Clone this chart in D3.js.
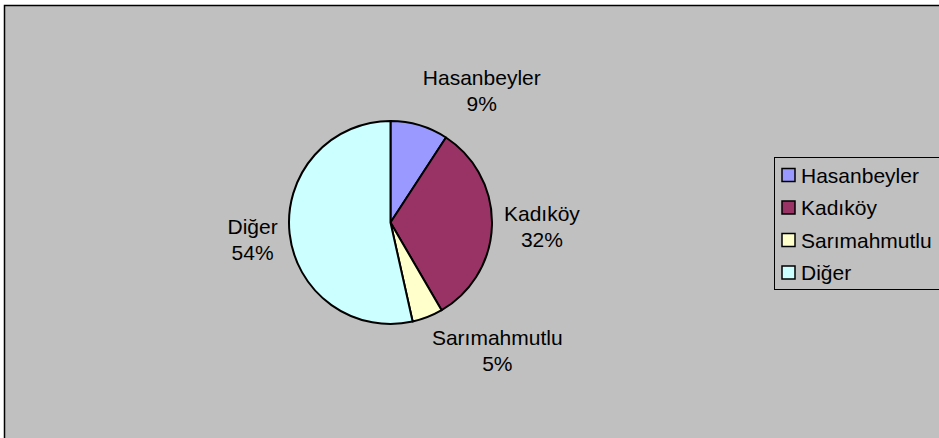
<!DOCTYPE html>
<html>
<head>
<meta charset="utf-8">
<script src="https://cdn.jsdelivr.net/npm/d3@7"></script>
<style>
  html, body { margin: 0; padding: 0; background: #fff; }
  text { font-family: "Liberation Sans", Arial, sans-serif; font-size: 21px; fill: #000; }
</style>
</head>
<body>
<div id="chart"></div>
<script>
// data
var categories = ["Hasanbeyler", "Kadıköy", "Sarımahmutlu", "Diğer"];
var values = [9.2, 32.4, 4.9, 53.5];
var colors = ["#9999FF", "#993366", "#FFFFCC", "#CCFFFF"];

var W = 939, H = 438;
var cx = 390.5, cy = 222.5, radius = 101.5;

var svg = d3.select("#chart").append("svg")
    .attr("width", W)
    .attr("height", H);

// chart area (cropped at right and bottom)
svg.append("rect")
    .attr("x", 4.5).attr("y", 5.5)
    .attr("width", 1000).attr("height", 1000)
    .attr("fill", "#C0C0C0")
    .attr("stroke", "#000")
    .attr("stroke-width", 1.5);

var total = d3.sum(values);
var data = categories.map(function(c, i) { return {name: c, value: values[i], color: colors[i]}; });

var pie = d3.pie().sort(null).value(function(d) { return d.value; });
var arc = d3.arc().innerRadius(0).outerRadius(radius);

var g = svg.append("g").attr("transform", "translate(" + cx + "," + cy + ")");
var arcs = pie(data);

g.selectAll("path")
    .data(arcs)
  .enter().append("path")
    .attr("d", arc)
    .attr("fill", function(d) { return d.data.color; })
    .attr("stroke", "#000")
    .attr("stroke-width", 2)
    .attr("stroke-linejoin", "round");

// labels outside the pie
var labelR = radius + 12, boxH = 46;
var labels = g.selectAll("g.lbl")
    .data(arcs)
  .enter().append("g").attr("class", "lbl");

labels.append("text").attr("class", "l1")
    .attr("text-anchor", "middle")
    .text(function(d) { return d.data.name; });
labels.append("text").attr("class", "l2")
    .attr("text-anchor", "middle")
    .text(function(d) { return Math.round(d.data.value / total * 100) + "%"; });

labels.each(function(d) {
  var sel = d3.select(this);
  var w = Math.max(sel.select(".l1").node().getComputedTextLength(),
                   sel.select(".l2").node().getComputedTextLength());
  var a = (d.startAngle + d.endAngle) / 2;
  var ax = labelR * Math.sin(a), ay = -labelR * Math.cos(a);
  var sx = Math.max(-1, Math.min(1, Math.sin(a) * 4));
  var sy = Math.max(-1, Math.min(1, -Math.cos(a) * 2));
  var bx = ax + sx * w / 2, by = ay + sy * boxH / 2;
  var top = by - boxH / 2;
  sel.select(".l1").attr("x", bx).attr("y", top + 17);
  sel.select(".l2").attr("x", bx).attr("y", top + 43);
});

// legend
var legend = svg.append("g");
legend.append("rect")
    .attr("x", 774.5).attr("y", 157.5)
    .attr("width", 300).attr("height", 132)
    .attr("fill", "#C0C0C0")
    .attr("stroke", "#000")
    .attr("stroke-width", 1);

var ly = d3.scalePoint().domain(categories).range([175, 272.5]);

var items = legend.selectAll("g.item")
    .data(data)
  .enter().append("g").attr("class", "item")
    .attr("transform", function(d) { return "translate(0," + ly(d.name) + ")"; });

items.append("rect")
    .attr("x", 782).attr("y", -6.5)
    .attr("width", 13).attr("height", 13)
    .attr("fill", function(d) { return d.color; })
    .attr("stroke", "#000")
    .attr("stroke-width", 1.5);

items.append("text")
    .attr("x", 801).attr("y", 7.5)
    .text(function(d) { return d.name; });
</script>
</body>
</html>
